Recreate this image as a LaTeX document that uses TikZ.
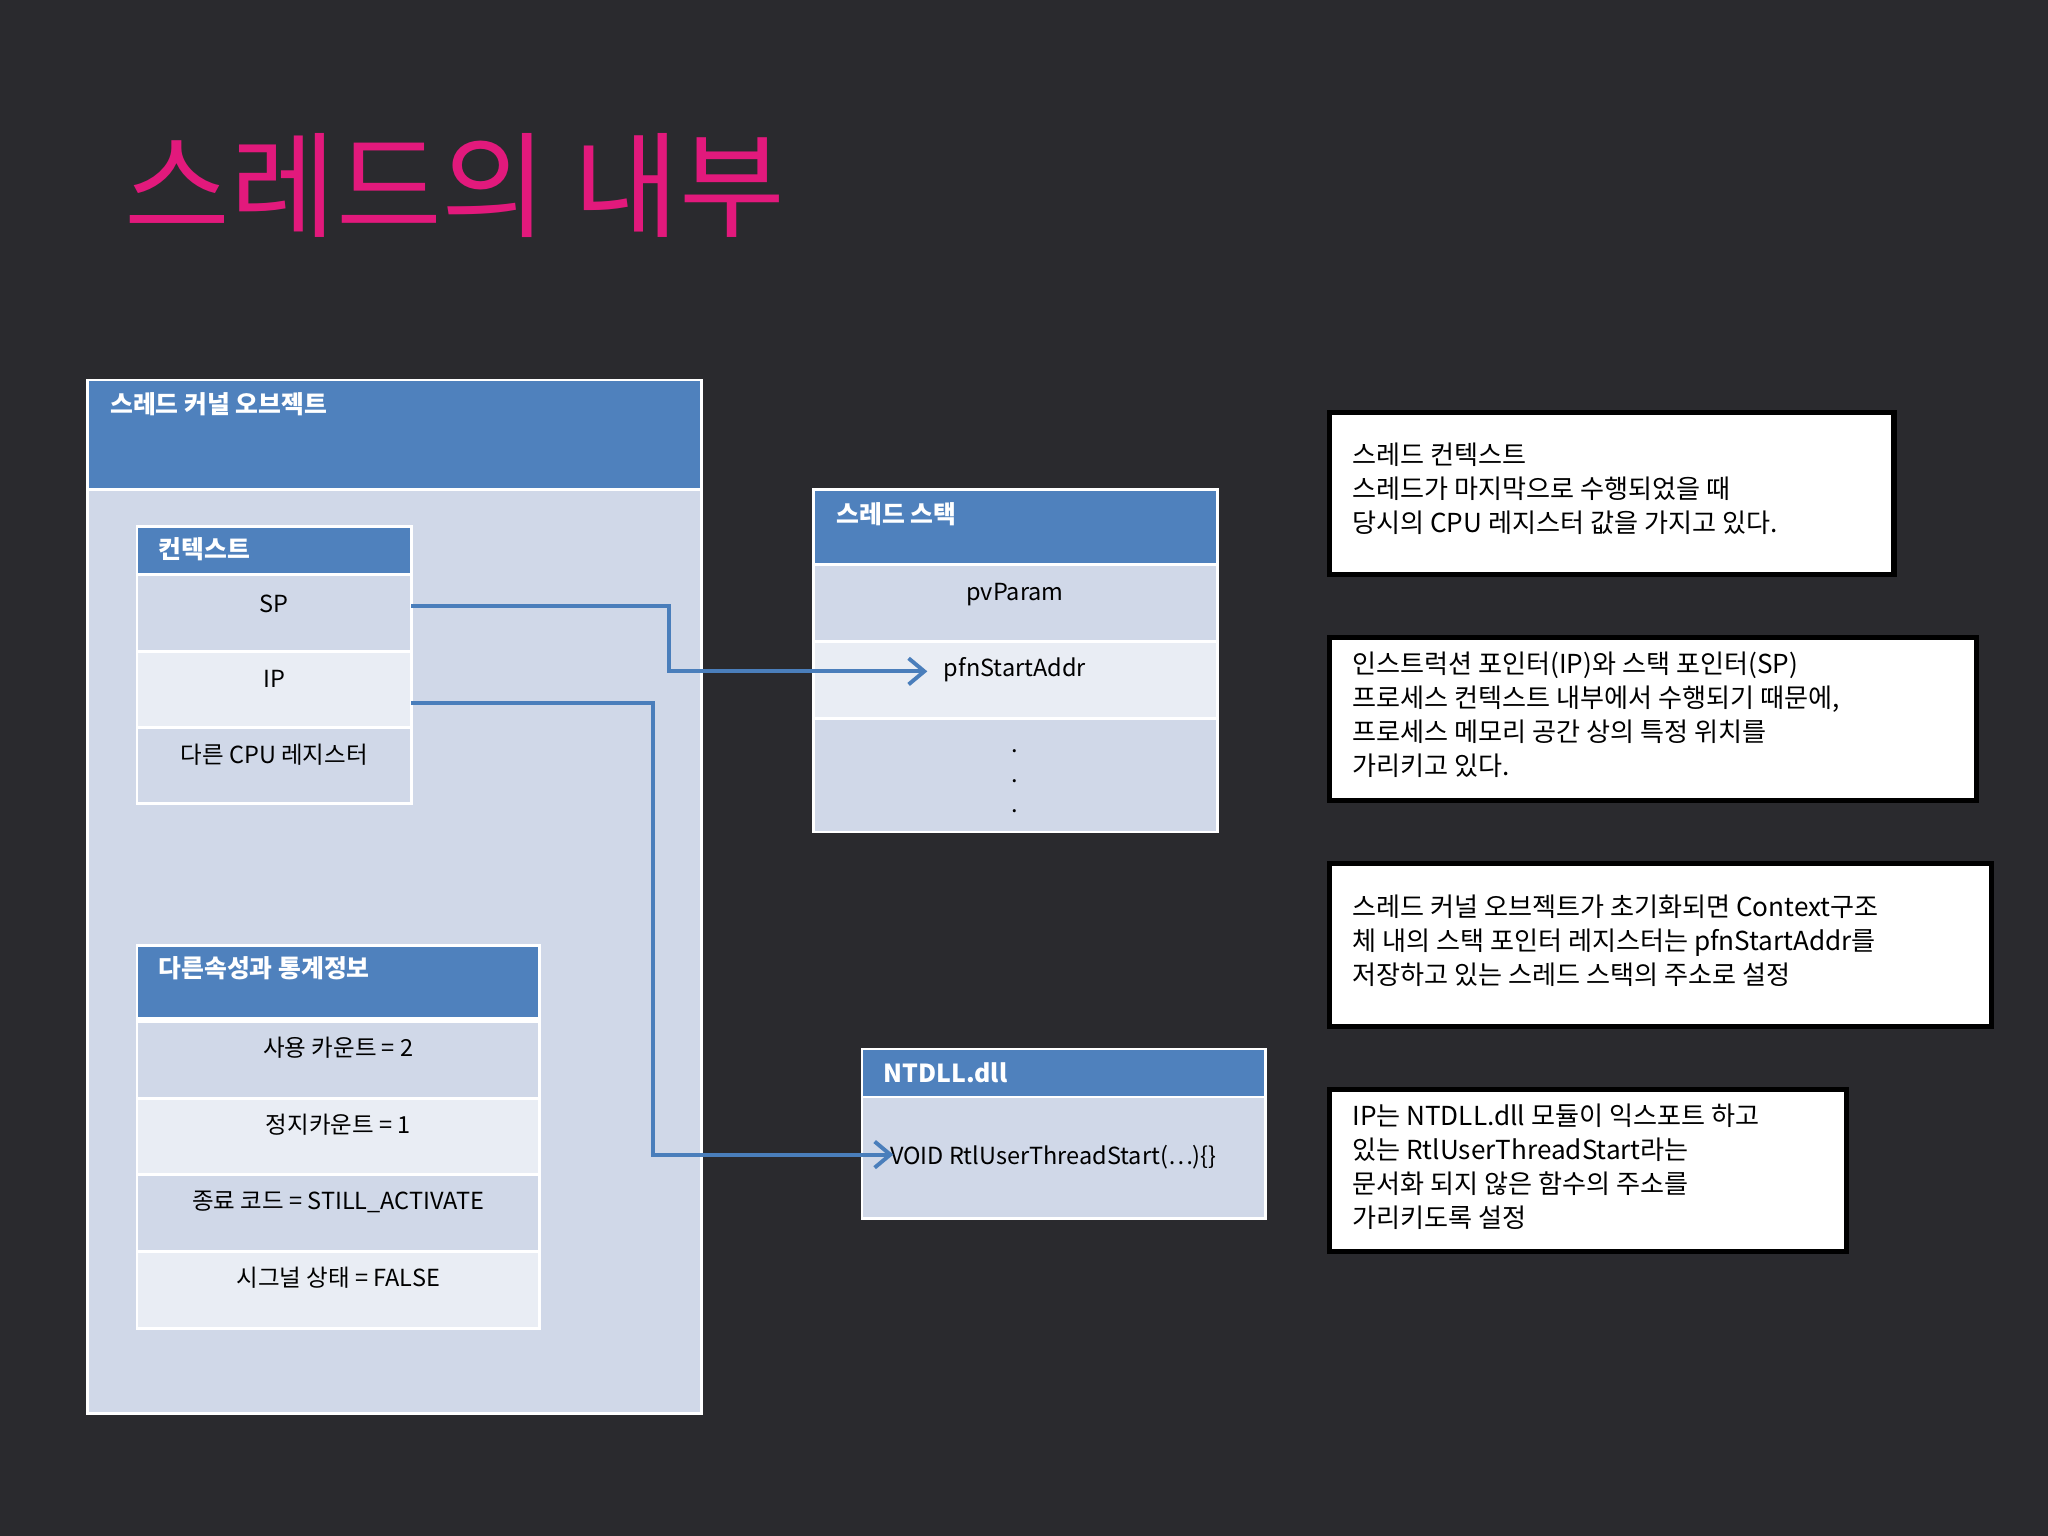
\documentclass[tikz,border=0pt]{standalone}
\usepackage{fontspec}
\setmainfont{Noto Sans CJK KR}
\usetikzlibrary{arrows.meta}
\definecolor{bg}{HTML}{2A2A2E}
\definecolor{hdr}{HTML}{4F81BD}
\definecolor{rowa}{HTML}{D0D8E8}
\definecolor{rowb}{HTML}{E9EDF4}
\definecolor{pink}{HTML}{E2197C}
\definecolor{conn}{HTML}{4A7EBB}
\tikzset{
 hbox/.style={fill=hdr,draw=white,line width=1pt},
 ra/.style={fill=rowa,draw=white,line width=1pt},
 rb/.style={fill=rowb,draw=white,line width=1pt},
 htxt/.style={anchor=north west,text=white,font=\fontsize{9.5}{11}\selectfont\bfseries,inner sep=0pt},
 rtxt/.style={text=black,font=\fontsize{9}{11}\selectfont,inner sep=0pt},
 note/.style={draw=black,line width=2pt,fill=white},
 ntxt/.style={anchor=north west,text=black,font=\fontsize{10}{13}\selectfont,align=left,inner sep=0pt},
 con/.style={draw=conn,line width=1.5pt,-{Straight Barb[length=6pt,width=10pt]}}
}
\begin{document}
\begin{tikzpicture}[x=0.5pt,y=-0.5pt]
\fill[bg] (0,0) rectangle (1568,1176);
\useasboundingbox (0,0) rectangle (1568,1176);
\node[anchor=west,text=pink,font=\fontsize{44}{50}\selectfont,inner sep=0pt] (title) at (95,142) {스레드의 내부};
% big box
\path[ra] (67,291) rectangle (537,1082);
\path[hbox] (67,291) rectangle (537,375);
\node[htxt] (bigh) at (84,300) {스레드 커널 오브젝트};
% context
\path[hbox] (105,403) rectangle (315,440);
\node[htxt] (ctxh) at (121,411) {컨텍스트};
\path[ra] (105,440) rectangle (315,499);
\path[rb] (105,499) rectangle (315,557);
\path[ra] (105,557) rectangle (315,615);
\node[rtxt] (sp) at (210,462) {SP};
\node[rtxt] (ip) at (210,520) {IP};
\node[rtxt] (oth) at (210,578) {다른 CPU 레지스터};
\coordinate (spR) at (315,464);
\coordinate (ipR) at (315,538);
% stats
\path[hbox] (105,724) rectangle (413,780);
\node[htxt] (sth) at (121,732) {다른속성과 통계정보};
\path[ra] (105,782) rectangle (413,841);
\path[rb] (105,841) rectangle (413,899);
\path[ra] (105,899) rectangle (413,958);
\path[rb] (105,958) rectangle (413,1017);
\node[rtxt] (s1) at (259,802) {사용 카운트 = 2};
\node[rtxt] (s2) at (259,861) {정지카운트 = 1};
\node[rtxt] (s3) at (259,920) {종료 코드 = STILL\_ACTIVATE};
\node[rtxt] (s4) at (259,978) {시그널 상태 = FALSE};
% stack
\path[hbox] (623,375) rectangle (932,432);
\node[htxt] (stkh) at (640,384) {스레드 스택};
\path[ra] (623,432) rectangle (932,491);
\path[rb] (623,491) rectangle (932,550);
\path[ra] (623,550) rectangle (932,637);
\node[rtxt] (pv) at (777,455) {pvParam};
\node[rtxt] (pfn) at (777,513) {pfnStartAddr};
\node[rtxt,align=center,font=\fontsize{9}{11.5}\selectfont] (dots) at (777,598) {.\\.\\.};
\coordinate (pfnL) at (710,514);
% ntdll
\path[hbox] (660,803) rectangle (969,840);
\node[htxt] (nth) at (676,813) {NTDLL.dll};
\path[ra] (660,840) rectangle (969,933);
\node[rtxt,anchor=west] (rtl) at (681,886) {VOID RtlUserThreadStart(…)\{\}};
\coordinate (rtlL) at (684,884);
% connectors
\draw[con] (spR) -- (512,464) -- (512,514) -- (pfnL);
\draw[con] (ipR) -- (500,538) -- (500,884) -- (rtlL);
% notes
\path[note] (1018,316) rectangle (1450,440);
\node[ntxt] (n1) at (1035,339) {스레드 컨텍스트\\스레드가 마지막으로 수행되었을 때\\당시의 CPU 레지스터 값을 가지고 있다.};
\path[note] (1018,488) rectangle (1513,613);
\node[ntxt] (n2) at (1035,499) {인스트럭션 포인터(IP)와 스택 포인터(SP)\\프로세스 컨텍스트 내부에서 수행되기 때문에,\\프로세스 메모리 공간 상의 특정 위치를\\가리키고 있다.};
\path[note] (1018,661) rectangle (1525,786);
\node[ntxt] (n3) at (1035,685) {스레드 커널 오브젝트가 초기화되면 Context구조\\체 내의 스택 포인터 레지스터는 pfnStartAddr를\\저장하고 있는 스레드 스택의 주소로 설정};
\path[note] (1018,834) rectangle (1414,958);
\node[ntxt] (n4) at (1035,845) {IP는 NTDLL.dll 모듈이 익스포트 하고\\있는 RtlUserThreadStart라는\\문서화 되지 않은 함수의 주소를\\가리키도록 설정};
\end{tikzpicture}
\end{document}
